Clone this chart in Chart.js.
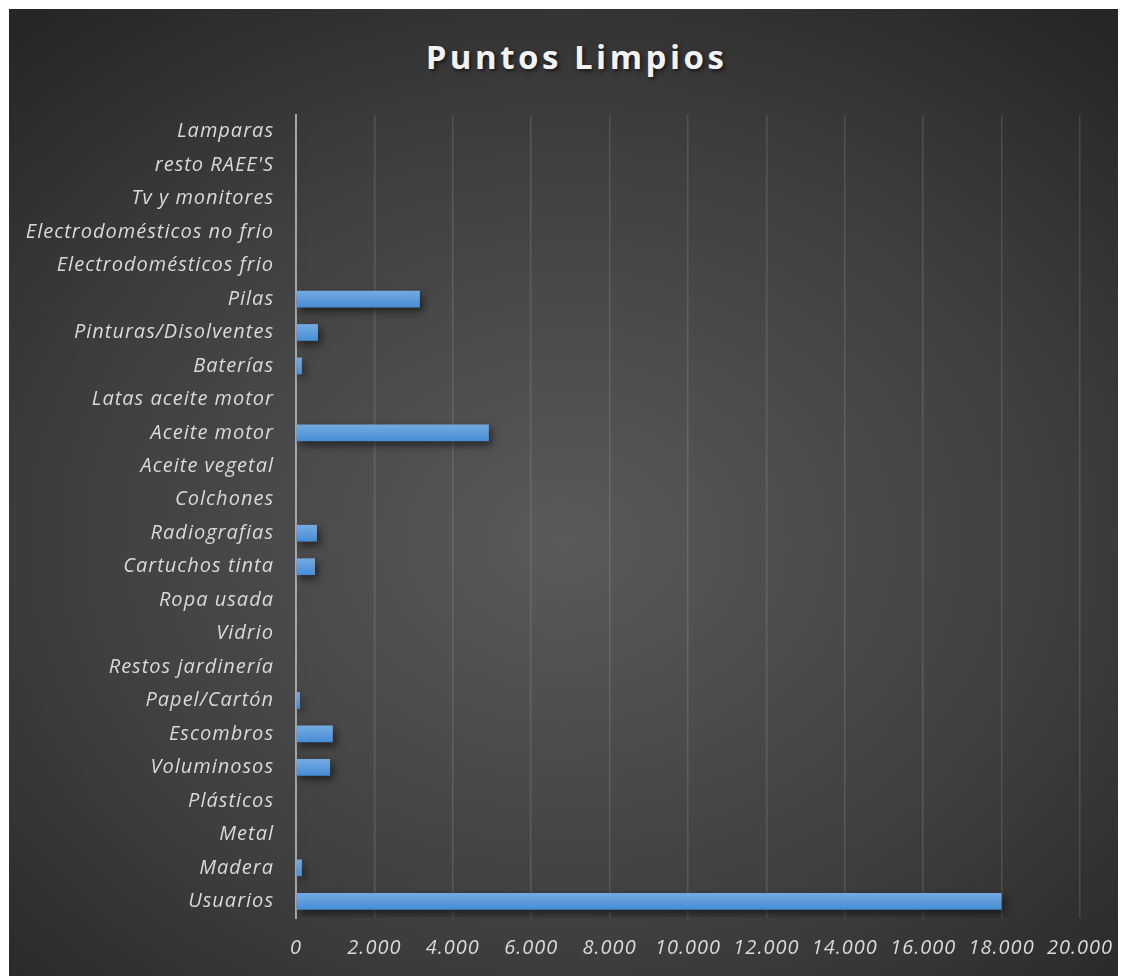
<!DOCTYPE html>
<html>
<head>
<meta charset="utf-8">
<script src="https://cdn.jsdelivr.net/npm/chart.js@4.4.1/dist/chart.umd.min.js"></script>
<style>
  html, body { margin: 0; padding: 0; background: #ffffff; }
  #wrap {
    position: absolute; left: 9px; top: 9px; width: 1109px; height: 967px;
    background: radial-gradient(ellipse 75% 70% at 50% 55%, #5a5a5a 0%, #3e3e3e 60%, #262626 100%);
  }
  #title {
    position: absolute; left: 26px; right: 0; top: 25px; text-align: center;
    font-family: "Open Sans", sans-serif; font-weight: bold; font-size: 33px;
    letter-spacing: 3.5px; color: #f2f2f2; text-shadow: 2px 2px 4px rgba(0,0,0,0.6);
  }
  canvas { position: absolute; left: 0; top: 0; }
</style>
</head>
<body>
<div id="wrap">
  <div id="title">Puntos Limpios</div>
  <canvas id="chart" width="1109" height="967"></canvas>
</div>
<script>
// categories bottom to top, as in the source sheet
const categories = [
    'Usuarios', 'Madera', 'Metal', 'Plásticos', 'Voluminosos', 'Escombros',
    'Papel/Cartón', 'Restos jardinería', 'Vidrio', 'Ropa usada', 'Cartuchos tinta',
    'Radiografias', 'Colchones', 'Aceite vegetal', 'Aceite motor', 'Latas aceite motor',
    'Baterías', 'Pinturas/Disolventes', 'Pilas', 'Electrodomésticos frio',
    'Electrodomésticos no frio', 'Tv y monitores', "resto RAEE'S", 'Lamparas'
];
const values = [
    18000, 150, 15, 15, 870, 940,
    100, 15, 15, 15, 485,
    535, 0, 15, 4920, 0,
    150, 560, 3160, 15,
    15, 15, 15, 15
];
const xTicks = [0, 2000, 4000, 6000, 8000, 10000, 12000, 14000, 16000, 18000, 20000];

const fmt = v => v.toLocaleString('de-DE');

// drop shadow under the bars + a bit of tracking on the axis text
const barShadow = {
    id: 'barShadow',
    beforeDraw(chart) {
        chart.ctx.letterSpacing = '1px';
    },
    beforeDatasetsDraw(chart) {
        const ctx = chart.ctx;
        ctx.save();
        ctx.shadowColor = 'rgba(0,0,0,0.55)';
        ctx.shadowBlur = 8;
        ctx.shadowOffsetX = 3;
        ctx.shadowOffsetY = 4;
    },
    afterDatasetsDraw(chart) {
        chart.ctx.restore();
    }
};

function barFill(context) {
    const chart = context.chart;
    const y = chart.scales.y;
    if (!y || !chart.chartArea) return '#5b9bd5';
    const mid = y.getPixelForValue(context.dataIndex);
    const half = (y.height / categories.length) * 0.5 / 2;
    const g = chart.ctx.createLinearGradient(0, mid - half, 0, mid + half);
    g.addColorStop(0, '#76abe0');
    g.addColorStop(1, '#468dd5');
    return g;
}

const labelFont = { family: "'Open Sans', sans-serif", size: 20, style: 'italic' };

new Chart(document.getElementById('chart').getContext('2d'), {
    type: 'bar',
    data: {
        labels: categories,
        datasets: [{
            data: values,
            backgroundColor: barFill,
            borderWidth: 0,
            barPercentage: 0.5,
            categoryPercentage: 1.0
        }]
    },
    plugins: [barShadow],
    options: {
        indexAxis: 'y',
        responsive: false,
        animation: false,
        layout: { padding: { top: 106, right: 38, bottom: 0, left: 0 } },
        plugins: {
            legend: { display: false },
            tooltip: { enabled: false },
            title: { display: false }
        },
        scales: {
            x: {
                min: 0,
                max: 20000,
                afterBuildTicks: axis => { axis.ticks = xTicks.map(v => ({ value: v })); },
                afterFit: axis => {
                    axis.height = 58;
                    axis.paddingLeft = 0;
                    axis.paddingRight = 0;
                },
                border: { display: false },
                grid: {
                    color: 'rgba(255,255,255,0.12)',
                    lineWidth: 1.5,
                    drawTicks: false
                },
                ticks: {
                    color: '#d9d9d9',
                    padding: 18,
                    maxRotation: 0,
                    font: labelFont,
                    callback: v => fmt(v)
                }
            },
            y: {
                reverse: true,
                afterFit: axis => {
                    axis.width = 287;
                    axis.paddingTop = 0;
                    axis.paddingBottom = 0;
                },
                border: { display: true, color: '#a6a6a6', width: 2 },
                grid: { display: false, drawTicks: false },
                ticks: {
                    color: '#d9d9d9',
                    padding: 22,
                    font: labelFont
                }
            }
        }
    }
});
</script>
</body>
</html>
